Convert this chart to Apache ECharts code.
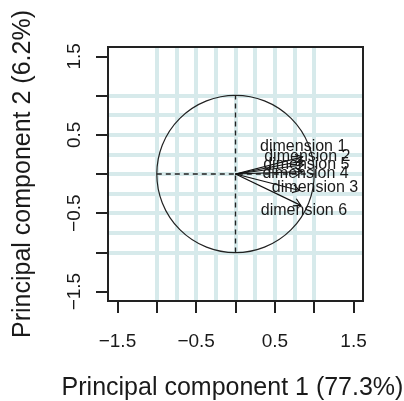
<!DOCTYPE html>
<html>
<head>
<meta charset="utf-8">
<script src="https://cdn.jsdelivr.net/npm/echarts@6/dist/echarts.min.js"></script>
<style>
    html, body { margin: 0; padding: 0; background: #fff; }
    #chart { width: 404px; height: 401px; }
</style>
</head>
<body>
<div id="chart"></div>
<script>
    // loadings (arrow tips)
    var dimNames = ['dimension 1', 'dimension 2', 'dimension 3', 'dimension 4', 'dimension 5', 'dimension 6'];
    var loadX = [0.853, 0.866, 0.815, 0.853, 0.866, 0.83];
    var loadY = [0.219, 0.169, -0.21, 0.03, 0.118, -0.40];
    // where each label sits
    var labelX = [0.86, 0.913, 1.01, 0.89, 0.90, 0.87];
    var labelY = [0.355, 0.228, -0.17, 0.0, 0.122, -0.465];

    var tickValues = [-1.5, -1, -0.5, 0, 0.5, 1, 1.5];
    var tickLabels = [-1.5, -0.5, 0.5, 1.5];
    var gridSteps = [-1, -0.75, -0.5, -0.25, 0, 0.25, 0.5, 0.75, 1];
    var refSegments = [[-1, 0, 1, 0], [0, -1, 0, 1]];

    var font = '"Liberation Sans", Arial, Helvetica, sans-serif';
    var ink = '#1a1a1a';

    function fmt(v) {
        return v < 0 ? '\u2212' + Math.abs(v) : String(v);
    }

    function makeAxis(name, gap) {
        return {
            type: 'value',
            min: -1.62,
            max: 1.62,
            name: name,
            nameLocation: 'middle',
            nameGap: gap,
            nameTextStyle: {fontSize: 25, color: ink, fontFamily: font},
            axisLine: {show: false, onZero: false},
            splitLine: {show: false},
            axisTick: {
                show: true,
                customValues: tickValues,
                length: 12,
                lineStyle: {color: '#222', width: 2}
            },
            axisLabel: {
                customValues: tickLabels,
                formatter: fmt,
                fontSize: 19,
                color: ink,
                fontFamily: font,
                margin: 31
            }
        };
    }

    var gridLines = [];
    gridSteps.forEach(function (v) {
        gridLines.push({xAxis: v});
        gridLines.push({yAxis: v});
    });

    var xAxis = makeAxis('Principal component 1 (77.3%)', 75);
    xAxis.nameTextStyle.padding = [0, 6, 0, 0];
    var yAxis = makeAxis('Principal component 2 (6.2%)', 72);
    yAxis.axisLabel.rotate = 90;
    yAxis.axisLabel.margin = 24;

    var arrowData = loadX.map(function (x, i) { return [x, loadY[i]]; });
    var labelData = labelX.map(function (x, i) { return [x, labelY[i], i]; });

    var chart = echarts.init(document.getElementById('chart'));
    chart.setOption({
        animation: false,
        backgroundColor: '#fff',
        grid: {
            left: 108, top: 47, right: 41, bottom: 100,
            outerBoundsMode: 'none',
            containLabel: false,
            show: true, z: 10,
            backgroundColor: 'transparent',
            borderColor: '#222', borderWidth: 2
        },
        xAxis: xAxis,
        yAxis: yAxis,
        series: [
            {
                // light background grid
                type: 'line',
                data: [],
                z: 1,
                markLine: {
                    z: 1,
                    silent: true,
                    symbol: ['none', 'none'],
                    label: {show: false},
                    lineStyle: {type: 'solid', color: '#d7eaeb', width: 4},
                    data: gridLines
                }
            },
            {
                // unit circle
                type: 'custom',
                z: 3,
                silent: true,
                data: [[0, 0]],
                renderItem: function (params, api) {
                    var c = api.coord([0, 0]);
                    var e = api.coord([1, 0]);
                    return {
                        type: 'circle',
                        shape: {cx: c[0], cy: c[1], r: e[0] - c[0]},
                        style: {fill: 'none', stroke: '#222', lineWidth: 1.2}
                    };
                }
            },
            {
                // dashed axes through the origin
                type: 'custom',
                z: 3,
                silent: true,
                data: refSegments,
                renderItem: function (params, api) {
                    var a = api.coord([api.value(0), api.value(1)]);
                    var b = api.coord([api.value(2), api.value(3)]);
                    return {
                        type: 'line',
                        shape: {x1: a[0], y1: a[1], x2: b[0], y2: b[1]},
                        style: {stroke: '#222', lineWidth: 1.4, lineDash: [5, 4]}
                    };
                }
            },
            {
                // loading arrows
                type: 'custom',
                z: 4,
                silent: true,
                data: arrowData,
                renderItem: function (params, api) {
                    var p0 = api.coord([0, 0]);
                    var p1 = api.coord([api.value(0), api.value(1)]);
                    var ang = Math.atan2(p1[1] - p0[1], p1[0] - p0[0]);
                    var len = 8, spread = Math.PI / 6;
                    return {
                        type: 'group',
                        children: [
                            {
                                type: 'line',
                                shape: {x1: p0[0], y1: p0[1], x2: p1[0], y2: p1[1]},
                                style: {stroke: '#111', lineWidth: 1.2}
                            },
                            {
                                type: 'polyline',
                                shape: {
                                    points: [
                                        [p1[0] - len * Math.cos(ang - spread), p1[1] - len * Math.sin(ang - spread)],
                                        p1,
                                        [p1[0] - len * Math.cos(ang + spread), p1[1] - len * Math.sin(ang + spread)]
                                    ]
                                },
                                style: {fill: 'none', stroke: '#111', lineWidth: 1.2}
                            }
                        ]
                    };
                }
            },
            {
                // dimension labels
                type: 'custom',
                z: 5,
                silent: true,
                data: labelData,
                renderItem: function (params, api) {
                    var p = api.coord([api.value(0), api.value(1)]);
                    return {
                        type: 'text',
                        x: p[0],
                        y: p[1],
                        style: {
                            text: dimNames[api.value(2)],
                            fontSize: 16,
                            fontFamily: font,
                            fill: ink,
                            align: 'center',
                            verticalAlign: 'middle'
                        }
                    };
                }
            }
        ]
    });
</script>
</body>
</html>
